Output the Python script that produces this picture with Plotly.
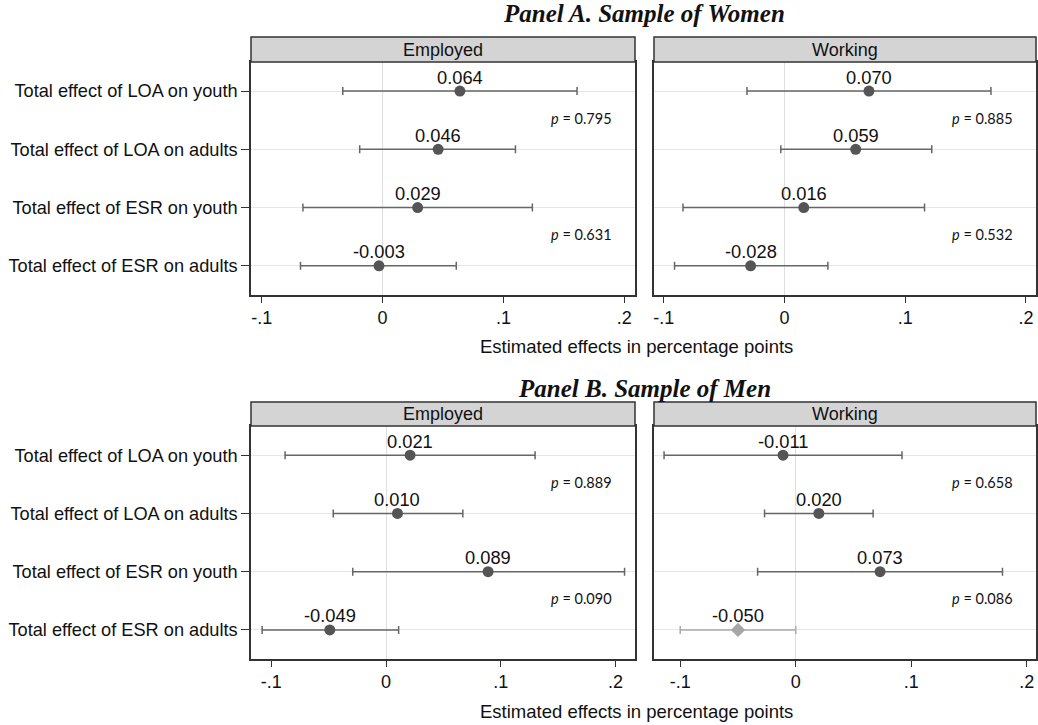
import plotly.graph_objects as go

# ---------------- data ----------------
categories = ["Total effect of LOA on youth", "Total effect of LOA on adults",
              "Total effect of ESR on youth", "Total effect of ESR on adults"]
panel_titles = ["Panel A. Sample of Women", "Panel B. Sample of Men"]
outcomes = ["Employed", "Working"]
x_tickvals = [-0.1, 0, 0.1, 0.2]
x_ticktext = ["-.1", "0", ".1", ".2"]
x_title = "Estimated effects in percentage points"

women_employed_est = [0.064, 0.046, 0.029, -0.003]
women_employed_lo = [-0.033, -0.019, -0.066, -0.068]
women_employed_hi = [0.161, 0.110, 0.124, 0.061]
women_employed_p = [0.795, 0.631]

women_working_est = [0.070, 0.059, 0.016, -0.028]
women_working_lo = [-0.031, -0.003, -0.084, -0.091]
women_working_hi = [0.171, 0.122, 0.116, 0.036]
women_working_p = [0.885, 0.532]

men_employed_est = [0.021, 0.010, 0.089, -0.049]
men_employed_lo = [-0.088, -0.046, -0.029, -0.108]
men_employed_hi = [0.130, 0.067, 0.208, 0.011]
men_employed_p = [0.889, 0.090]

men_working_est = [-0.011, 0.020, 0.073, -0.050]
men_working_lo = [-0.114, -0.027, -0.033, -0.100]
men_working_hi = [0.092, 0.067, 0.179, 0.000]
men_working_p = [0.658, 0.086]
men_working_highlight = [False, False, False, True]

# ---------------- layout helpers ----------------
W, H = 1038, 725
def px_x(v):
    return v / W
def px_y(v):
    return 1 - v / H

FONT = "Liberation Sans, Arial, sans-serif"
DARK = "#333333"
MARK = "#555555"
BAR = "#666666"
LIGHT_MARK = "#a6a6a6"

col_px = [(251, 635), (654, 1036)]
row_px = [(62, 295), (426, 659)]
strip_px = [(37, 62), (402, 426)]
xranges = [[[-0.109, 0.209], [-0.108, 0.2083]],
           [[-0.1177, 0.2171], [-0.1227, 0.208]]]

panels = [
    [(women_employed_est, women_employed_lo, women_employed_hi, women_employed_p, None),
     (women_working_est, women_working_lo, women_working_hi, women_working_p, None)],
    [(men_employed_est, men_employed_lo, men_employed_hi, men_employed_p, None),
     (men_working_est, men_working_lo, men_working_hi, men_working_p, men_working_highlight)],
]

fig = go.Figure()
annotations = []
shapes = []
layout_axes = {}

idx = 0
for r in range(2):
    for c in range(2):
        idx += 1
        xa = "x" if idx == 1 else f"x{idx}"
        ya = "y" if idx == 1 else f"y{idx}"
        est, lo, hi, pv, hl = panels[r][c]
        if hl is None:
            hl = [False] * len(est)
        for flag in (False, True):
            sel = [i for i in range(len(est)) if hl[i] == flag]
            if not sel:
                continue
            fig.add_trace(go.Scatter(
                x=[est[i] for i in sel],
                y=[categories[i] for i in sel],
                mode="markers",
                marker=dict(symbol="diamond" if flag else "circle",
                            size=11,
                            color=LIGHT_MARK if flag else MARK,
                            line=dict(width=0)),
                error_x=dict(type="data", symmetric=False,
                             array=[hi[i] - est[i] for i in sel],
                             arrayminus=[est[i] - lo[i] for i in sel],
                             color="#aaaaaa" if flag else BAR,
                             thickness=1.5, width=4),
                xaxis=xa, yaxis=ya, showlegend=False, cliponaxis=False,
                hoverinfo="skip"))
        # value labels above the points
        for i in range(len(est)):
            annotations.append(dict(
                x=est[i], y=categories[i], xref=xa, yref=ya,
                xanchor="center", yanchor="middle", yshift=14,
                text=f"{est[i]:.3f}", showarrow=False,
                font=dict(family=FONT, size=18.3, color="#111111")))
        x0, x1 = col_px[c]
        y0, y1 = row_px[r]
        xkey = "xaxis" if idx == 1 else f"xaxis{idx}"
        ykey = "yaxis" if idx == 1 else f"yaxis{idx}"
        layout_axes[xkey] = dict(
            domain=[px_x(x0), px_x(x1)], anchor=ya, range=xranges[r][c],
            tickvals=x_tickvals, ticktext=x_ticktext, ticks="outside",
            ticklen=6, tickcolor=DARK, tickwidth=1.2,
            tickfont=dict(family=FONT, size=18, color="#111111"),
            showgrid=False, zeroline=True, zerolinecolor="#dedede",
            zerolinewidth=1, showline=True, linecolor=DARK, linewidth=1.5,
            mirror=True, fixedrange=True)
        layout_axes[ykey] = dict(
            domain=[px_y(y1), px_y(y0)], anchor=xa, type="category",
            categoryorder="array", categoryarray=categories,
            range=[3.5, -0.5], showgrid=True, gridcolor="#e6e6e6",
            gridwidth=1, showline=True, linecolor=DARK, linewidth=1.5,
            mirror=True, ticks="outside" if c == 0 else "", ticklen=8,
            tickcolor=DARK, tickwidth=1.2,
            showticklabels=(c == 0),
            tickfont=dict(family=FONT, size=18.2, color="#111111"),
            zeroline=False, fixedrange=True)
        # p-values
        for k, p in enumerate(pv):
            annotations.append(dict(
                x=1, xref=f"{xa} domain", y=0.5 + 2 * k, yref=ya,
                xanchor="right", yanchor="middle", xshift=-21, yshift=2,
                text=f"<i>p</i> = {p:.3f}", showarrow=False,
                font=dict(family="Lato, Open Sans, sans-serif", size=14.5,
                          color="#111111")))
        # strip header
        s0, s1 = strip_px[r]
        shapes.append(dict(type="rect", xref="paper", yref="paper",
                           x0=px_x(x0), x1=px_x(x1), y0=px_y(s1), y1=px_y(s0),
                           fillcolor="#d4d4d4", line=dict(color=DARK, width=1.5),
                           layer="above"))
        annotations.append(dict(
            x=(px_x(x0) + px_x(x1)) / 2, y=(px_y(s0) + px_y(s1)) / 2,
            xref="paper", yref="paper", xanchor="center", yanchor="middle",
            text=outcomes[c], showarrow=False,
            font=dict(family=FONT, size=18, color="#111111")))

# panel titles and x-axis titles
title_y = [14, 388]
xtitle_y = [347, 711]
for r in range(2):
    annotations.append(dict(
        x=px_x(644), y=px_y(title_y[r]), xref="paper", yref="paper",
        xanchor="center", yanchor="middle",
        text=f"<b><i>{panel_titles[r]}</i></b>", showarrow=False,
        font=dict(family="Liberation Serif, DejaVu Serif, serif", size=25,
                  color="#111111")))
    annotations.append(dict(
        x=px_x(636), y=px_y(xtitle_y[r]), xref="paper", yref="paper",
        xanchor="center", yanchor="middle", text=x_title, showarrow=False,
        font=dict(family=FONT, size=18.5, color="#111111")))

fig.update_layout(
    width=W, height=H, margin=dict(l=0, r=0, t=0, b=0),
    paper_bgcolor="white", plot_bgcolor="white",
    annotations=annotations, shapes=shapes, **layout_axes)

fig.write_html("out.html", config={"displayModeBar": False},
               post_script="document.body.style.margin='0';document.body.style.padding='0';")
